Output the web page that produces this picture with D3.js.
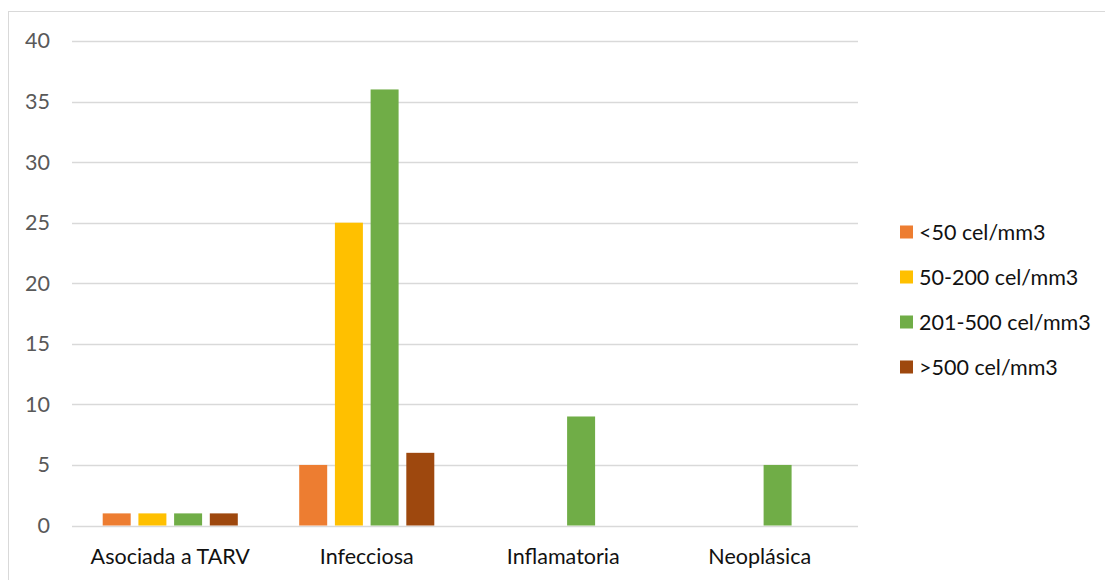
<!DOCTYPE html>
<html>
<head>
<meta charset="utf-8">
<script src="https://cdn.jsdelivr.net/npm/d3@7"></script>
<style>
  html, body { margin: 0; padding: 0; background: #fff; }
  svg { display: block; font-family: Lato, "Open Sans", sans-serif; }
</style>
</head>
<body>
<svg id="chart" width="1105" height="580"></svg>
<script>
// Categories and series
const categories = ["Asociada a TARV", "Infecciosa", "Inflamatoria", "Neoplásica"];
const seriesNames = ["<50 cel/mm3", "50-200 cel/mm3", "201-500 cel/mm3", ">500 cel/mm3"];
const seriesColors = ["#ED7D31", "#FFC000", "#70AD47", "#9E480E"];
const lt50 = [1, 5, 0, 0];
const s50to200 = [1, 25, 0, 0];
const s201to500 = [1, 36, 9, 5];
const gt500 = [1, 6, 0, 0];
const yTicks = [0, 5, 10, 15, 20, 25, 30, 35, 40];

const seriesValues = [lt50, s50to200, s201to500, gt500];

const svg = d3.select("#chart");
const fontSize = 21.5;

// outer chart frame
svg.append("rect")
  .attr("x", 8.5).attr("y", 11.5)
  .attr("width", 1110).attr("height", 600)
  .attr("fill", "#fff").attr("stroke", "#d9d9d9").attr("stroke-width", 1);

const plot = { left: 72, right: 858, top: 41, bottom: 525.5 };

const y = d3.scaleLinear().domain([0, 40]).range([plot.bottom, plot.top]);
const x0 = d3.scaleBand().domain(categories).range([plot.left, plot.right]).padding(0);
const x1 = d3.scaleBand().domain(seriesNames).range([0, x0.bandwidth()])
  .paddingInner(0.216).paddingOuter(0.86);

// gridlines
svg.append("g")
  .selectAll("line")
  .data(yTicks)
  .join("line")
  .attr("x1", plot.left).attr("x2", plot.right)
  .attr("y1", d => Math.round(y(d)) + 0.5).attr("y2", d => Math.round(y(d)) + 0.5)
  .attr("stroke", "#d9d9d9").attr("stroke-width", 1.4);

// y axis labels
const yAxis = d3.axisLeft(y).tickValues(yTicks).tickSize(0).tickPadding(0);
svg.append("g")
  .attr("transform", `translate(50,0)`)
  .call(yAxis)
  .call(g => g.select(".domain").remove())
  .call(g => g.selectAll("text")
    .attr("fill", "#595959")
    .attr("font-size", fontSize)
    .attr("font-family", "Lato, sans-serif"));

// bars
const rows = [];
categories.forEach((c, ci) => {
  seriesNames.forEach((s, si) => {
    rows.push({ cat: c, series: s, value: seriesValues[si][ci], color: seriesColors[si] });
  });
});

svg.append("g")
  .selectAll("rect")
  .data(rows.filter(d => d.value > 0))
  .join("rect")
  .attr("x", d => x0(d.cat) + x1(d.series))
  .attr("width", x1.bandwidth())
  .attr("y", d => y(d.value))
  .attr("height", d => y(0) - y(d.value))
  .attr("fill", d => d.color);

// category axis labels
const xAxis = d3.axisBottom(x0).tickSize(0).tickPadding(0);
svg.append("g")
  .attr("transform", `translate(0,${plot.bottom + 23})`)
  .call(xAxis)
  .call(g => g.select(".domain").remove())
  .call(g => g.selectAll("text")
    .attr("fill", "#111")
    .attr("font-size", fontSize)
    .attr("font-family", "Lato, sans-serif"));

// legend
const legend = svg.append("g")
  .selectAll("g")
  .data(seriesNames)
  .join("g")
  .attr("transform", (d, i) => `translate(900,${232 + i * 45})`);

legend.append("rect")
  .attr("x", 0).attr("y", -6.5)
  .attr("width", 13).attr("height", 13)
  .attr("fill", (d, i) => seriesColors[i]);

legend.append("text")
  .attr("x", 19).attr("y", 0)
  .attr("dy", "0.35em")
  .attr("font-size", fontSize)
  .attr("fill", "#111")
  .text(d => d);
</script>
</body>
</html>
